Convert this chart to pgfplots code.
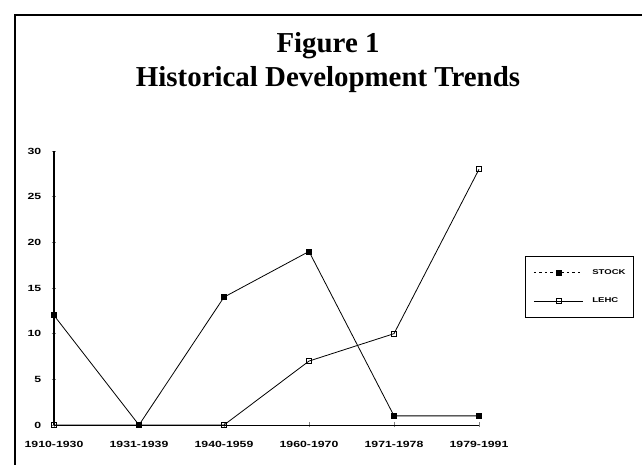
\documentclass[border=0pt]{standalone}
\usepackage{pgfplots}
\pgfplotsset{compat=1.18}
\usepackage{fontspec}
\setmainfont{Liberation Serif}
\newfontfamily\tickfont[FakeStretch=1.37]{Liberation Sans}
\pgfplotsset{
  stockleg/.style={legend image code/.code={
    \draw[mark repeat=2,mark phase=2,##1, dash pattern=on 2.5bp off 3bp] plot coordinates {(0bp,0bp) (24.5bp,0bp) (49bp,0bp)};
    \path (58bp,0bp);}},
  lehcleg/.style={legend image code/.code={
    \draw[mark repeat=2,mark phase=2,##1] plot coordinates {(0bp,0bp) (24.5bp,0bp) (49bp,0bp)};
    \path (58bp,0bp);}},
}
\begin{document}
\begin{tikzpicture}
\useasboundingbox (0,0) rectangle (642bp,465bp);
\draw[line width=1.5bp] (15bp,-10bp) -- (15bp,450bp) -- (660bp,450bp);
\node[anchor=base, inner sep=0pt, font=\fontsize{29}{34}\selectfont\bfseries] at (328bp,412bp) {Figure 1};
\node[anchor=base, inner sep=0pt, font=\fontsize{29}{34}\selectfont\bfseries] at (328bp,378bp) {Historical Development Trends};
\begin{axis}[
  at={(54bp,40bp)}, anchor=south west,
  width=425bp, height=274bp, scale only axis,
  xmin=0, xmax=5, ymin=0, ymax=30,
  axis x line=bottom, axis y line=left,
  axis line style={-},
  x axis line style={line width=0.8bp},
  y axis line style={line width=1.3bp},
  xtick={0,...,5},
  xticklabels={1910-1930,1931-1939,1940-1959,1960-1970,1971-1978,1979-1991},
  ytick={0,5,...,30},
  tick align=center,
  major tick length=5bp,
  xtick style={line width=0.6bp},
  ytick style={line width=0.8bp},
  /pgf/number format/assume math mode=true,
  xticklabel style={font=\tickfont\bfseries\fontsize{9}{10}\selectfont, inner sep=0pt, yshift=-14bp},
  yticklabel style={font=\tickfont\bfseries\fontsize{9}{10}\selectfont, inner sep=0pt, xshift=-10bp},
  legend style={at={(1.108,0.617)}, anchor=north west, draw=black, line width=1.2bp,
    inner xsep=8bp, inner ysep=13bp, row sep=22bp,
    font=\tickfont\bfseries\fontsize{7}{8}\selectfont,
    nodes={inner sep=0pt}},
  legend cell align=left,
  clip=false,
]
\addplot[black, line width=0.8bp, mark=square*, mark size=2.5bp, mark options={solid}, stockleg]
  coordinates {(0,12) (1,0) (2,14) (3,19) (4,1) (5,1)};
\addlegendentry{STOCK}
\addplot[black, line width=0.8bp, mark=square, mark size=2.5bp, mark options={solid, fill=white}, lehcleg]
  coordinates {(0,0) (1,0) (2,0) (3,7) (4,10) (5,28)};
\addlegendentry{LEHC}
\end{axis}
\end{tikzpicture}
\end{document}
